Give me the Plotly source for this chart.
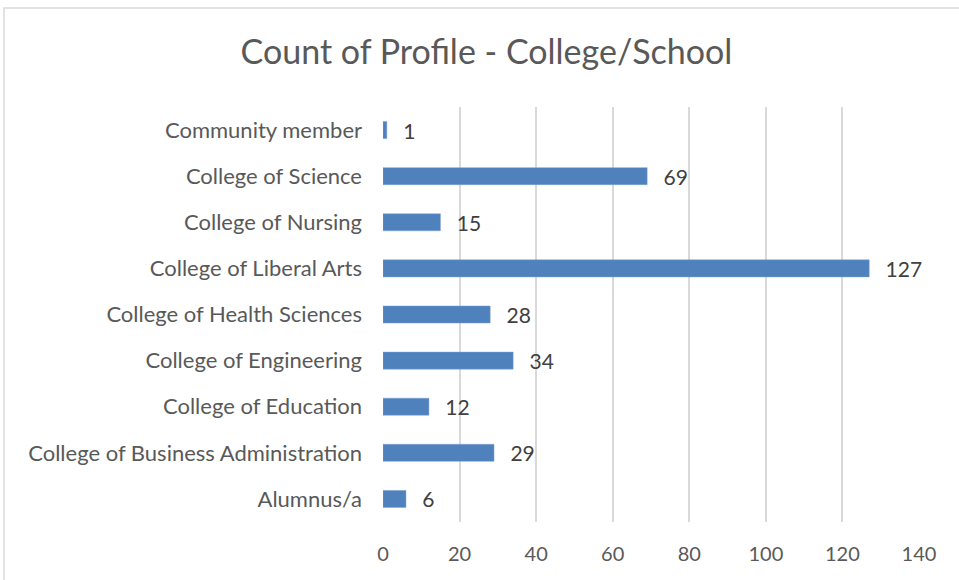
import plotly.graph_objects as go

categories = [
    "Alumnus/a",
    "College of Business Administration",
    "College of Education",
    "College of Engineering",
    "College of Health Sciences",
    "College of Liberal Arts",
    "College of Nursing",
    "College of Science",
    "Community member",
]
counts = [6, 29, 12, 34, 28, 127, 15, 69, 1]
x_ticks = [0, 20, 40, 60, 80, 100, 120, 140]

BAR_COLOR = "#4f81bd"
TEXT_COLOR = "#595959"
FONT = "Lato, 'Open Sans', sans-serif"

W, H = 959, 580
L, R, T, B = 383, 40, 107, 58
pw = W - L - R
ph = H - T - B

# etiquetas com um pequeno recuo, como no original
labels = ["\u00a0\u00a0\u2009" + str(v) for v in counts]

fig = go.Figure(
    go.Bar(
        x=counts,
        y=categories,
        orientation="h",
        marker=dict(color=BAR_COLOR, line=dict(color="#7fa3d1", width=0.5)),
        text=labels,
        textposition="outside",
        constraintext="none",
        textfont=dict(family=FONT, size=21, color="#404040"),
        cliponaxis=False,
        width=0.37,
    )
)

# moldura cinza do gráfico (cortada à direita e embaixo)
fig.add_shape(
    type="rect",
    xref="paper", yref="paper",
    x0=(4 - L) / pw, x1=(W + 5 - L) / pw,
    y0=-(B + 5) / ph, y1=(ph + T - 8) / ph,
    line=dict(color="#d9d9d9", width=1.5),
    fillcolor="rgba(0,0,0,0)",
    layer="below",
)

fig.update_layout(
    width=W,
    height=H,
    margin=dict(l=L, r=R, t=T, b=B),
    paper_bgcolor="white",
    plot_bgcolor="white",
    showlegend=False,
    title=dict(
        text="Count of Profile - College/School",
        x=(240 + 733) / 2 / W,
        xanchor="center",
        y=1 - 52 / H,
        yanchor="middle",
        font=dict(family=FONT, size=34, color=TEXT_COLOR),
    ),
    xaxis=dict(
        range=[0, 140],
        tickvals=x_ticks,
        showgrid=True,
        gridcolor="#d9d9d9",
        gridwidth=1.5,
        zeroline=False,
        showline=False,
        ticks="",
        ticklabelstandoff=18,
        tickfont=dict(family=FONT, size=20, color=TEXT_COLOR),
    ),
    yaxis=dict(
        categoryorder="array",
        categoryarray=categories,
        showgrid=False,
        zeroline=False,
        showline=False,
        ticks="",
        ticklabelstandoff=20,
        tickfont=dict(family=FONT, size=22, color=TEXT_COLOR),
    ),
)

fig.write_html(
    "out.html",
    config={"displayModeBar": False},
    post_script="document.body.style.margin='0';document.body.style.overflow='hidden';",
)
